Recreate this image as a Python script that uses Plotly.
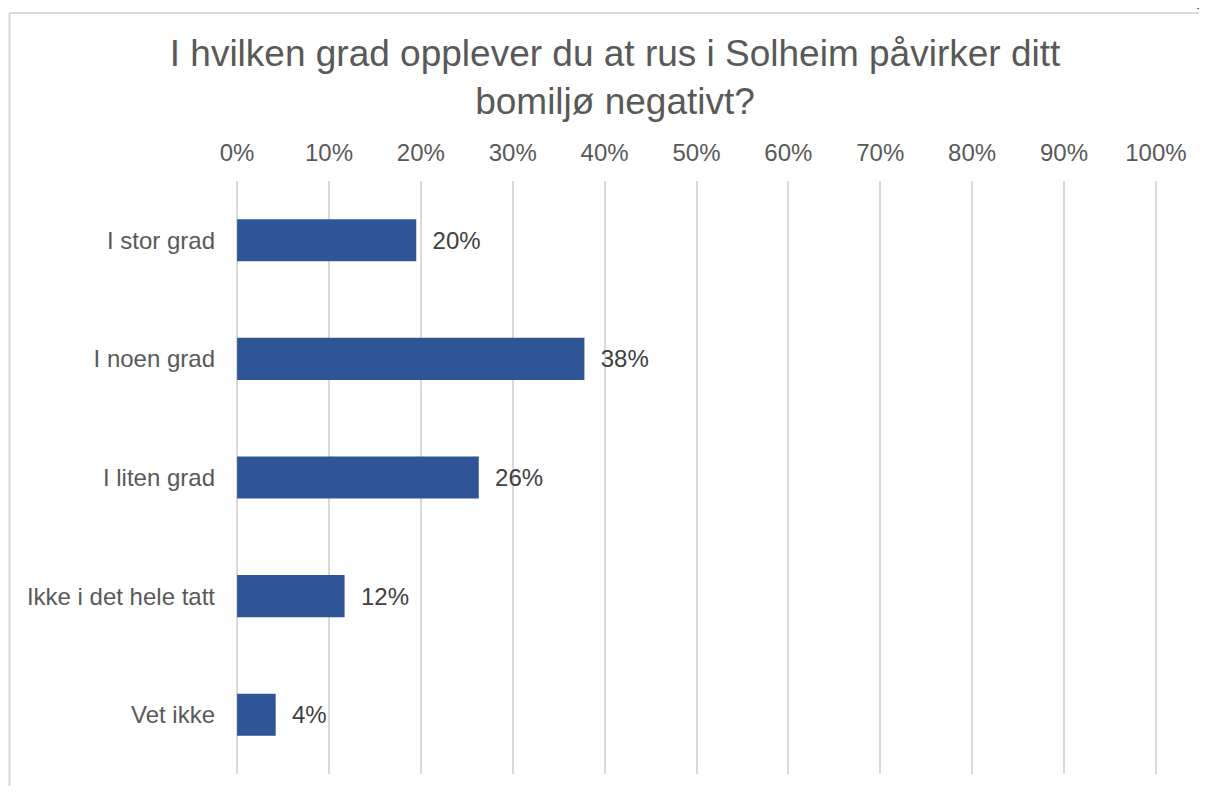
import plotly.graph_objects as go

categories = ["I stor grad", "I noen grad", "I liten grad", "Ikke i det hele tatt", "Vet ikke"]
values = [0.195, 0.378, 0.263, 0.117, 0.042]
tick_vals = [i / 10 for i in range(11)]
tick_text = [f"{i*10}%" for i in range(11)]
title_text = "I hvilken grad opplever du at rus i Solheim påvirker ditt<br>bomiljø negativt?"

# page has an 8px body offset; all pixel positions below are figure pixels
W, H = 1191, 778
L, R, T, B = 228, 40, 173, 12
pw, ph = W - L - R, H - T - B


def px_to_paper_x(px):
    return (px - L) / pw


def px_to_paper_y(py):
    return (H - B - py) / ph


fig = go.Figure()
fig.add_trace(go.Bar(
    y=categories, x=values, orientation="h",
    marker=dict(color="#2F5597", line=dict(width=0)),
    width=0.355,
    texttemplate="  %{x:.0%}", textposition="outside", cliponaxis=False,
    textfont=dict(size=24, color="#404040", family="Liberation Sans, Arial"),
    hoverinfo="skip",
))

fig.update_layout(
    width=W, height=H,
    margin=dict(l=L, r=R, t=T, b=B),
    paper_bgcolor="white", plot_bgcolor="white",
    showlegend=False,
    font=dict(family="Liberation Sans, Arial", color="#595959"),
    title=dict(text=title_text, x=607 / W, xanchor="center", xref="container",
               y=1 - 58 / H, yanchor="middle", yref="container",
               font=dict(size=37, color="#595959")),
    xaxis=dict(side="top", range=[-0.0012, 1.0012], tickvals=tick_vals, ticktext=tick_text,
               showgrid=True, gridcolor="#D9D9D9", gridwidth=2,
               zeroline=True, zerolinecolor="#D9D9D9", zerolinewidth=2,
               showline=False, ticks="", ticklabelstandoff=14,
               tickfont=dict(size=24, color="#595959"), fixedrange=True),
    yaxis=dict(autorange="reversed", showgrid=False, zeroline=False, showline=False,
               ticks="", ticklabelstandoff=20,
               tickfont=dict(size=24, color="#595959"), fixedrange=True),
    shapes=[
        dict(type="line", xref="paper", yref="paper",
             x0=px_to_paper_x(1), x1=px_to_paper_x(1),
             y0=px_to_paper_y(5), y1=px_to_paper_y(H + 5),
             line=dict(color="#D9D9D9", width=2), layer="below"),
        dict(type="line", xref="paper", yref="paper",
             x0=px_to_paper_x(1), x1=px_to_paper_x(W + 5),
             y0=px_to_paper_y(5), y1=px_to_paper_y(5),
             line=dict(color="#D9D9D9", width=2), layer="below"),
        dict(type="circle", xref="paper", yref="paper",
             x0=px_to_paper_x(1170), x1=px_to_paper_x(1244),
             y0=px_to_paper_y(4), y1=px_to_paper_y(-70),
             fillcolor="#5B3C99", line=dict(width=0), layer="above"),
    ],
)

fig.write_html("out.html")
